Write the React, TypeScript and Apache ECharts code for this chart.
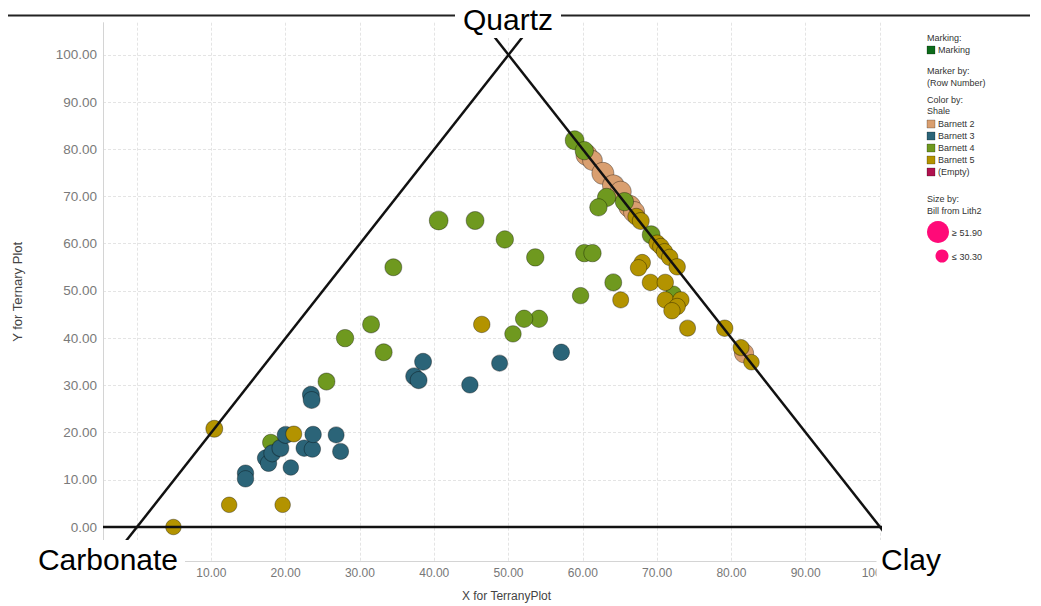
import React, { useEffect, useRef } from "react";
import * as echarts from "echarts";

// ---- Data ----
// [x for ternary plot, y for ternary plot, Bill from Lith2]
const barnett2: number[][] = [
  [60.5, 78.8, 50], [61.3, 77.6, 47], [62.7, 74.9, 52], [64.1, 72.3, 51],
  [65.1, 71.0, 50], [66.3, 67.9, 52], [66.9, 66.7, 50], [81.7, 36.8, 46],
];
const barnett3: number[][] = [
  [14.6, 11.4, 40], [14.6, 10.2, 40], [17.3, 14.6, 40], [17.7, 13.5, 40],
  [18.2, 15.6, 41], [19.3, 16.7, 41], [20.0, 19.5, 41], [20.7, 12.6, 38],
  [22.5, 16.7, 40], [23.6, 16.5, 40], [23.7, 19.6, 40], [26.8, 19.5, 39],
  [27.4, 16.0, 39], [23.4, 28.0, 41], [23.5, 26.9, 41], [38.5, 35.0, 41],
  [37.3, 31.9, 41], [37.9, 31.1, 41], [44.8, 30.1, 40], [48.8, 34.7, 39],
  [57.1, 37.0, 40],
];
const barnett4: number[][] = [
  [58.9, 81.9, 45], [60.2, 79.7, 44], [63.2, 69.8, 44], [62.1, 67.7, 42],
  [65.6, 68.9, 44], [69.2, 61.9, 43], [64.1, 51.8, 41], [59.7, 49.0, 40],
  [60.2, 58.0, 42], [61.3, 58.0, 42], [53.6, 57.1, 42], [54.1, 44.1, 42],
  [52.1, 44.1, 42], [50.6, 40.9, 40], [40.6, 64.9, 45], [45.5, 64.9, 43],
  [49.5, 60.9, 42], [34.5, 55.0, 41], [31.5, 42.9, 41], [28.0, 40.0, 42],
  [33.2, 37.0, 41], [25.5, 30.8, 41], [18.0, 17.9, 40], [72.2, 49.4, 38],
];
const barnett5: number[][] = [
  [4.9, 0.0, 38], [10.4, 20.8, 41], [12.4, 4.7, 38], [19.6, 4.7, 38],
  [21.1, 19.7, 39], [46.4, 42.9, 40], [67.2, 65.7, 41], [67.8, 64.8, 41],
  [70.0, 60.1, 40], [70.5, 59.4, 40], [71.0, 58.3, 40], [71.7, 57.1, 40],
  [72.7, 55.1, 40], [68.0, 56.0, 40], [67.5, 54.9, 40], [69.1, 51.8, 40],
  [71.1, 51.8, 40], [65.1, 48.1, 39], [71.1, 48.1, 40], [73.2, 48.1, 40],
  [72.7, 46.7, 40], [72.0, 45.8, 40], [74.1, 42.1, 39], [79.1, 42.1, 40],
  [81.3, 38.0, 39], [82.7, 34.9, 38],
];

// Ternary vertices
const carbonate = [0, 0];
const quartz = [50, 100];
const clay = [100, 0];

const X_TICKS = [0, 10, 20, 30, 40, 50, 60, 70, 80, 90, 100];
const X_LABELS = [10, 20, 30, 40, 50, 60, 70, 80, 90, 100];
const Y_TICKS = [0, 10, 20, 30, 40, 50, 60, 70, 80, 90, 100];
const X_MIN = -4.58;
const X_MAX = 100;
const Y_MIN = -7.2;
const Y_MAX = 106.8;

const SIZE_MAX_LABEL = "≥ 51.90";
const SIZE_MIN_LABEL = "≤ 30.30";
const BILL_MIN = 30.3;
const BILL_MAX = 51.9;

const COLORS = {
  b2: "#d99f70",
  b3: "#2b6478",
  b4: "#6f991f",
  b5: "#b39300",
  empty: "#b0124f",
  marking: "#0d6b1a",
  size: "#ff0a78",
};

function extend(a: number[], b: number[], t0: number, t1: number) {
  return [
    [a[0] + (b[0] - a[0]) * t0, a[1] + (b[1] - a[1]) * t0],
    [a[0] + (b[0] - a[0]) * t1, a[1] + (b[1] - a[1]) * t1],
  ];
}

const FONT = '"Liberation Sans", Arial, sans-serif';

export default function App() {
  const ref = useRef<HTMLDivElement>(null);
  useEffect(() => {
    if (!ref.current) return;
    const chart = echarts.init(ref.current, undefined, { renderer: "svg" });
    const sizeFn = (v: number[]) =>
      12 + ((v[2] - BILL_MIN) / (BILL_MAX - BILL_MIN)) * 10;
    const scatterBase = (name: string, data: number[][], color: string) => ({
      name,
      type: "scatter",
      data,
      symbolSize: sizeFn,
      itemStyle: {
        color,
        opacity: 1,
        borderColor: "rgba(0,0,0,0.35)",
        borderWidth: 1,
      },
      emphasis: { disabled: true },
    });
    const lineBase = (data: number[][]) => ({
      type: "line",
      data,
      symbol: "none",
      clip: false,
      silent: true,
      lineStyle: { color: "#111", width: 2.5 },
      emphasis: { disabled: true },
    });

    const legendText = (text: string, x: number, y: number) => ({
      type: "text",
      x,
      y,
      z: 100,
      style: {
        text,
        fill: "#333",
        fontSize: 9,
        fontFamily: FONT,
        verticalAlign: "middle",
        align: "left",
      },
    });
    const legendSwatch = (color: string, y: number) => ({
      type: "rect",
      z: 100,
      shape: { x: 927, y: y - 4, width: 8, height: 8 },
      style: { fill: color, stroke: "rgba(0,0,0,0.4)", lineWidth: 0.6 },
    });
    const bigLabel = (text: string, cx: number, cy: number, bx: number, bw: number) => [
      {
        type: "rect",
        z: 99,
        shape: { x: bx, y: cy - 19, width: bw, height: 38 },
        style: { fill: "#fff" },
      },
      {
        type: "text",
        x: cx,
        y: cy,
        z: 100,
        style: {
          text,
          fill: "#000",
          fontSize: 30,
          fontFamily: FONT,
          align: "center",
          verticalAlign: "middle",
        },
      },
    ];

    chart.setOption({
      animation: false,
      backgroundColor: "#fff",
      grid: {
        left: 103,
        right: 161,
        top: 22.7,
        bottom: 45,
        containLabel: false,
        outerBoundsMode: "none",
      },
      xAxis: {
        type: "value",
        min: X_MIN,
        max: X_MAX,
        name: "X for TerranyPlot",
        nameLocation: "middle",
        nameGap: 29,
        nameTextStyle: {
          color: "#444",
          fontSize: 12,
          fontFamily: FONT,
          padding: [0, 0, 0, 30],
        },
        axisLine: { show: true, onZero: false, lineStyle: { color: "#d4d4d4", width: 1 } },
        axisTick: { show: false, customValues: X_TICKS },
        axisLabel: {
          customValues: X_LABELS,
          formatter: (v: number) => v.toFixed(2),
          color: "#777",
          fontSize: 12,
          fontFamily: FONT,
          margin: 6,
        },
        splitLine: {
          show: true,
          lineStyle: { color: "#e4e4e4", type: [3, 2], width: 1 },
        },
      },
      yAxis: {
        type: "value",
        min: Y_MIN,
        max: Y_MAX,
        name: "Y for Ternary Plot",
        nameLocation: "middle",
        nameGap: 79,
        nameTextStyle: { color: "#444", fontSize: 13, fontFamily: FONT },
        axisLine: { show: true, onZero: false, lineStyle: { color: "#d4d4d4", width: 1 } },
        axisTick: { show: false, customValues: Y_TICKS },
        axisLabel: {
          customValues: Y_TICKS,
          formatter: (v: number) => v.toFixed(2),
          color: "#7a7a7a",
          fontSize: 13.5,
          fontFamily: FONT,
          margin: 6,
        },
        splitLine: {
          show: true,
          lineStyle: { color: "#e4e4e4", type: [3, 2], width: 1 },
        },
      },
      series: [
        lineBase(extend(carbonate, clay, X_MIN / 100, 1.051)),
        lineBase(extend(carbonate, quartz, -0.034, 1.06)),
        lineBase(extend(clay, quartz, -0.034, 1.06)),
        scatterBase("Barnett 2", barnett2, COLORS.b2),
        scatterBase("Barnett 4", barnett4, COLORS.b4),
        scatterBase("Barnett 3", barnett3, COLORS.b3),
        scatterBase("Barnett 5", barnett5, COLORS.b5),
      ],
      graphic: [
        {
          type: "line",
          z: 98,
          shape: { x1: 8, y1: 15.5, x2: 1030, y2: 15.5 },
          style: { stroke: "#222", lineWidth: 2 },
        },
        ...bigLabel("Quartz", 508, 19, 455, 106),
        ...bigLabel("Carbonate", 108, 559, 30, 155),
        ...bigLabel("Clay", 911, 559, 876.5, 70),
        legendText("Marking:", 927, 38),
        legendSwatch(COLORS.marking, 50),
        legendText("Marking", 938, 50),
        legendText("Marker by:", 927, 71),
        legendText("(Row Number)", 927, 83),
        legendText("Color by:", 927, 100),
        legendText("Shale", 927, 111),
        legendSwatch(COLORS.b2, 124),
        legendText("Barnett 2", 938, 124),
        legendSwatch(COLORS.b3, 136),
        legendText("Barnett 3", 938, 136),
        legendSwatch(COLORS.b4, 148),
        legendText("Barnett 4", 938, 148),
        legendSwatch(COLORS.b5, 160),
        legendText("Barnett 5", 938, 160),
        legendSwatch(COLORS.empty, 172),
        legendText("(Empty)", 938, 172),
        legendText("Size by:", 927, 199),
        legendText("Bill from Lith2", 927, 211),
        {
          type: "circle",
          z: 100,
          shape: { cx: 938, cy: 232, r: 11 },
          style: { fill: COLORS.size },
        },
        legendText(SIZE_MAX_LABEL, 952, 233),
        {
          type: "circle",
          z: 100,
          shape: { cx: 942, cy: 256, r: 6.5 },
          style: { fill: COLORS.size },
        },
        legendText(SIZE_MIN_LABEL, 952, 257),
      ],
    });
    return () => chart.dispose();
  }, []);
  return (
    <div
      ref={ref}
      style={{ position: "absolute", left: 0, top: 0, width: 1041, height: 606 }}
    />
  );
}
